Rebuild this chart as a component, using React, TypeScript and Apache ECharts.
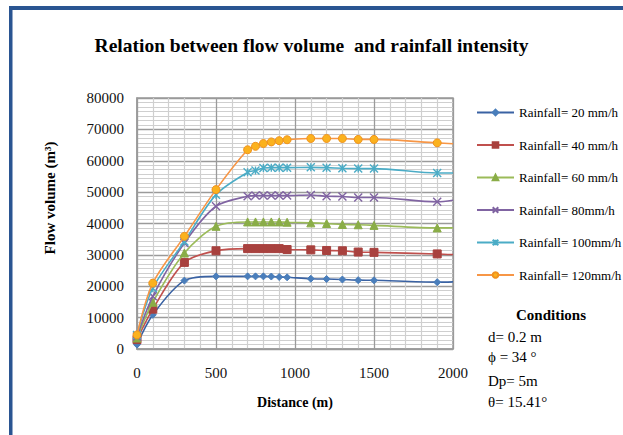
import React, { useEffect, useRef } from "react";
import * as echarts from "echarts";

const distances = [0, 100, 300, 500, 700, 750, 800, 850, 900, 950, 1100, 1200, 1300, 1400, 1500, 1900, 2000];
const rain20 = [1400, 10900, 21800, 23150, 23150, 23150, 23150, 23100, 22950, 22850, 22400, 22300, 22150, 21950, 21900, 21300, 21400];
const rain40 = [3000, 12700, 27600, 31300, 32000, 32000, 32000, 32000, 32000, 31700, 31600, 31400, 31300, 30900, 30800, 30300, 30100];
const rain60 = [3500, 14900, 30600, 39100, 40500, 40500, 40500, 40500, 40500, 40400, 40200, 40000, 39700, 39600, 39400, 38600, 38600];
const rain80 = [4000, 16800, 33800, 45500, 48700, 48900, 48900, 48900, 48900, 48900, 49100, 48700, 48600, 48300, 48300, 46900, 47400];
const rain100 = [4500, 19400, 34300, 49200, 56300, 56900, 57700, 57800, 57800, 57800, 57900, 57800, 57600, 57500, 57500, 56100, 56100];
const rain120 = [4500, 21000, 35900, 50800, 63500, 64600, 65500, 66000, 66400, 66700, 67100, 67100, 67100, 66800, 66800, 65700, 65400];
const seriesNames = [
  "Rainfall= 20 mm/h",
  "Rainfall= 40 mm/h",
  "Rainfall= 60 mm/h",
  "Rainfall= 80mm/h",
  "Rainfall= 100mm/h",
  "Rainfall= 120mm/h",
];
const xTicks = [0, 500, 1000, 1500, 2000];
const yTicks = [0, 10000, 20000, 30000, 40000, 50000, 60000, 70000, 80000];
const conditionLines = ["d= 0.2 m", "ϕ = 34 °", "Dp= 5m", "θ= 15.41°"];

const FONT = "'Liberation Serif', 'Times New Roman', serif";

const styles = [
  { line: "#3a62a3", fill: "#4a7ebb", border: "#4a7ebb", symbol: "diamond", size: 7 },
  { line: "#c0504d", fill: "#a8413e", border: "#a8413e", symbol: "rect", size: 8 },
  { line: "#9bbb59", fill: "#8aad47", border: "#8aad47", symbol: "triangle", size: 8 },
  { line: "#8064a2", fill: "none", border: "#8064a2", symbol: "path://M0,0L10,10M10,0L0,10", size: 8 },
  { line: "#4bacc6", fill: "none", border: "#4bacc6", symbol: "path://M0,0L10,10M10,0L0,10M5,0L5,10", size: 8 },
  { line: "#f79646", fill: "#fbb21e", border: "#f0921e", symbol: "circle", size: 8 },
];

export default function App() {
  const ref = useRef<HTMLDivElement>(null);
  useEffect(() => {
    if (!ref.current) return;
    const chart = echarts.init(ref.current, null, { renderer: "svg" });
    const all = [rain20, rain40, rain60, rain80, rain100, rain120];
    const lastIdx = distances.length - 1;
    const series = all.map((vals, i) => {
      const s = styles[i];
      const isPath = s.symbol.startsWith("path://");
      return {
        name: seriesNames[i],
        type: "line",
        smooth: 0.3,
        symbol: s.symbol,
        symbolSize: s.size,
        showAllSymbol: true,
        lineStyle: { color: s.line, width: 1.6 },
        itemStyle: isPath
          ? { color: s.border, borderColor: s.border, borderWidth: 1.4 }
          : { color: s.fill, borderColor: s.border, borderWidth: 1 },
        data: vals.map((v, j) =>
          j === lastIdx ? { value: [distances[j], v], symbol: "none" } : [distances[j], v]
        ),
        z: 3 + i,
      };
    });
    const option = {
      animation: false,
      backgroundColor: "#ffffff",
      title: {
        text: "Relation between flow volume  and rainfall intensity",
        left: "center",
        top: 30,
        textStyle: { fontFamily: FONT, fontSize: 19.5, fontWeight: "bold", color: "#000" },
      },
      legend: {
        orient: "vertical",
        left: 471,
        top: 101,
        itemWidth: 37,
        itemHeight: 7,
        itemGap: 19.5,
        data: seriesNames,
        textStyle: { fontFamily: FONT, fontSize: 13, color: "#000" },
      },
      grid: {
        left: 137,
        right: 170,
        top: 98,
        bottom: 86,
        show: true,
        borderColor: "#9a9a9a",
        borderWidth: 1.5,
      },
      xAxis: {
        type: "value",
        min: xTicks[0],
        max: xTicks[xTicks.length - 1],
        interval: 500,
        name: "Distance (m)",
        nameLocation: "middle",
        nameGap: 46,
        nameTextStyle: { fontFamily: FONT, fontSize: 14, fontWeight: "bold", color: "#000" },
        axisLine: { show: true, lineStyle: { color: "#9a9a9a", width: 1.5 } },
        axisTick: { show: false },
        axisLabel: { fontFamily: FONT, fontSize: 15, color: "#111", margin: 16, formatter: (v: number) => String(v) },
        splitLine: { show: true, lineStyle: { color: "#9a9a9a", width: 1.3 } },
        minorTick: { show: false, splitNumber: 5 },
        minorSplitLine: { show: true, lineStyle: { color: "#cfcfcf", width: 1.2 } },
      },
      yAxis: {
        type: "value",
        min: yTicks[0],
        max: yTicks[yTicks.length - 1],
        interval: 10000,
        axisLine: { show: true, lineStyle: { color: "#9a9a9a", width: 1.5 } },
        axisTick: { show: false },
        axisLabel: { fontFamily: FONT, fontSize: 15, color: "#111", margin: 13, formatter: (v: number) => String(v) },
        splitLine: { show: true, lineStyle: { color: "#9a9a9a", width: 1.3 } },
        minorTick: { show: false, splitNumber: 7 },
        minorSplitLine: { show: true, lineStyle: { color: "#cfcfcf", width: 1.2 } },
      },
      graphic: [
        { type: "rect", shape: { x: 9, y: 6, width: 3.5, height: 429 }, style: { fill: "#2a5592" }, z: 100 },
        { type: "rect", shape: { x: 9, y: 6, width: 614, height: 4 }, style: { fill: "#2a5592" }, z: 100 },
        {
          type: "text",
          x: 50,
          y: 198,
          rotation: Math.PI / 2,
          style: {
            text: "Flow volume (m³)",
            fontFamily: FONT,
            fontSize: 15,
            fontWeight: "bold",
            fill: "#000",
            align: "center",
            verticalAlign: "middle",
          },
        },
        {
          type: "text",
          x: 551,
          y: 315,
          style: {
            text: "Conditions",
            fontFamily: FONT,
            fontSize: 15,
            fontWeight: "bold",
            fill: "#000",
            align: "center",
            verticalAlign: "middle",
          },
        },
        ...conditionLines.map((t, i) => ({
          type: "text",
          x: 488,
          y: [337, 357, 381, 402][i],
          style: {
            text: t,
            fontFamily: FONT,
            fontSize: 15,
            fill: "#000",
            align: "left",
            verticalAlign: "middle",
          },
        })),
      ],
      series,
    };
    chart.setOption(option as any);
    return () => chart.dispose();
  }, []);
  return (
    <div
      ref={ref}
      style={{ position: "fixed", left: 0, top: 0, width: 623, height: 435 }}
    />
  );
}
